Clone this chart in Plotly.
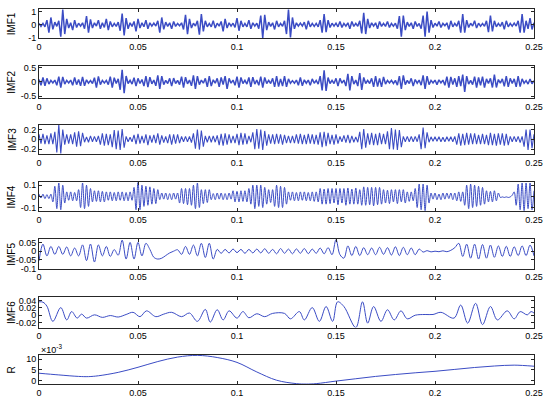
import numpy as np
import plotly.graph_objects as go

LINE_COLOR = "#3b4cc4"
AXIS_COLOR = "#262626"
FONT = "Arial, Liberation Sans, sans-serif"

# --- data ---
# IMF1..IMF4 sampled every 1 ms, IMF5 every 2 ms (values in signal units)
imf1 = [0.1, -0.12, 0.1, -0.15, 0.35, -0.6, 0.55, -0.35, 0.2, -0.12,
        0.3, -0.9, 1.15, -0.7, 0.45, -0.25, 0.15, -0.4, 0.35, -0.2,
        0.12, -0.1, 0.15, -0.3, 0.65, -0.6, 0.4, -0.25, 0.15, -0.1,
        0.35, -0.3, 0.15, -0.2, 0.45, -0.4, 0.25, -0.15, 0.1, -0.12,
        0.2, -0.45, 0.85, -0.8, 0.5, -0.3, 0.15, -0.12, 0.25, -0.5,
        0.45, -0.25, 0.15, -0.15, 0.35, -0.3, 0.15, -0.1, 0.12, -0.1,
        0.3, -0.6, 0.55, -0.35, 0.2, -0.12, 0.15, -0.3, 0.25, -0.12,
        0.1, -0.08, 0.15, -0.35, 0.75, -0.7, 0.45, -0.25, 0.12, -0.1,
        0.3, -0.75, 0.8, -0.5, 0.3, -0.15, 0.1, -0.15, 0.3, -0.25,
        0.12, -0.1, 0.25, -0.5, 0.45, -0.25, 0.15, -0.1, 0.12, -0.2,
        0.5, -0.45, 0.3, -0.15, 0.1, -0.15, 0.35, -0.3, 0.15, -0.1,
        0.12, -0.3, 0.7, -1.0, 0.75, -0.4, 0.2, -0.12, 0.15, -0.35,
        0.3, -0.15, 0.1, -0.12, 0.3, -0.7, 1.15, -0.95, 0.55, -0.3,
        0.15, -0.1, 0.12, -0.1, 0.2, -0.35, 0.3, -0.15, 0.1, -0.12,
        0.1, -0.15, 0.35, -0.6, 0.8, -0.55, 0.35, -0.2, 0.12, -0.1,
        0.12, -0.15, 0.25, -0.2, 0.1, -0.1, 0.15, -0.3, 0.25, -0.12,
        0.1, -0.12, 0.3, -0.65, 0.9, -0.7, 0.45, -0.25, 0.15, -0.1,
        0.15, -0.3, 0.25, -0.12, 0.1, -0.12, 0.25, -0.2, 0.1, -0.1,
        0.12, -0.3, 0.65, -0.9, 0.7, -0.4, 0.2, -0.12, 0.15, -0.3,
        0.25, -0.12, 0.1, -0.3, 0.7, -0.9, 1.0, -0.6, 0.35, -0.2,
        0.12, -0.1, 0.25, -0.2, 0.1, -0.08, 0.15, -0.35, 0.3, -0.15,
        0.1, -0.12, 0.3, -0.6, 0.8, -0.6, 0.35, -0.2, 0.12, -0.1,
        0.3, -0.25, 0.12, -0.1, 0.1, -0.12, 0.3, -0.55, 0.7, -0.5,
        0.3, -0.15, 0.1, -0.12, 0.2, -0.35, 0.3, -0.15, 0.1, -0.1,
        0.12, -0.1, 0.3, -0.6, 0.8, -0.6, 0.3, -0.3, 0.5, -0.35,
        0.15]

imf2 = [0.08, -0.12, 0.15, -0.14, 0.12, -0.08, 0.05, -0.04, 0.06, -0.12,
        0.18, -0.2, 0.17, -0.08, 0.05, -0.04, 0.06, -0.12, 0.15, -0.1,
        0.08, -0.14, 0.17, -0.14, 0.07, -0.05, 0.04, -0.06, 0.14, -0.2,
        0.19, -0.1, 0.05, -0.04, 0.05, -0.1, 0.18, -0.2, 0.14, -0.06,
        0.1, -0.28, 0.42, -0.4, 0.2, -0.06, 0.05, -0.08, 0.14, -0.15,
        0.12, -0.06, 0.08, -0.15, 0.2, -0.19, 0.16, -0.07, 0.06, -0.14,
        0.22, -0.25, 0.2, -0.1, 0.05, -0.06, 0.12, -0.15, 0.13, -0.06,
        0.05, -0.1, 0.18, -0.2, 0.16, -0.07, 0.06, -0.14, 0.22, -0.25,
        0.2, -0.1, 0.06, -0.05, 0.12, -0.18, 0.2, -0.15, 0.07, -0.05,
        0.12, -0.18, 0.15, -0.1, 0.2, -0.25, 0.12, -0.05, 0.06, -0.12,
        0.18, -0.2, 0.15, -0.06, 0.05, -0.08, 0.15, -0.18, 0.16, -0.08,
        0.06, -0.12, 0.18, -0.2, 0.15, -0.06, 0.05, -0.06, 0.12, -0.18,
        0.2, -0.17, 0.1, -0.15, 0.2, -0.18, 0.1, -0.05, 0.04, -0.05,
        0.06, -0.12, 0.15, -0.14, 0.07, -0.05, 0.06, -0.12, 0.1, -0.05,
        0.05, -0.08, 0.2, -0.3, 0.4, -0.32, 0.15, -0.06, 0.05, -0.06,
        0.12, -0.15, 0.12, -0.05, 0.06, -0.15, 0.28, -0.3, 0.2, -0.08,
        0.06, -0.15, 0.3, -0.28, 0.15, -0.06, 0.05, -0.06, 0.12, -0.18,
        0.2, -0.17, 0.12, -0.18, 0.17, -0.08, 0.05, -0.04, 0.05, -0.06,
        0.05, -0.12, 0.2, -0.25, 0.22, -0.1, 0.05, -0.06, 0.12, -0.15,
        0.08, -0.05, 0.06, -0.12, 0.22, -0.25, 0.2, -0.1, 0.05, -0.04,
        0.06, -0.1, 0.07, -0.04, 0.06, -0.12, 0.18, -0.2, 0.17, -0.1,
        0.12, -0.18, 0.2, -0.15, 0.25, -0.35, 0.2, -0.08, 0.05, -0.1,
        0.18, -0.2, 0.15, -0.12, 0.18, -0.2, 0.1, -0.06, 0.12, -0.2,
        0.25, -0.2, 0.08, -0.05, 0.1, -0.16, 0.2, -0.18, 0.12, -0.06,
        0.1, -0.18, 0.2, -0.17, 0.1, -0.05, 0.04, -0.08, 0.1, -0.07,
        0.04]

imf3 = [0.1, -0.09, 0.11, -0.1, 0.08, -0.1, 0.12, -0.1, 0.15, -0.27,
        0.3, -0.29, 0.2, -0.11, 0.1, -0.09, 0.1, -0.1, 0.14, -0.15,
        0.16, -0.14, 0.13, -0.06, 0.05, -0.06, 0.07, -0.05, 0.06, -0.05,
        0.07, -0.11, 0.12, -0.13, 0.11, -0.12, 0.1, -0.16, 0.19, -0.2,
        0.18, -0.22, 0.21, -0.17, 0.06, -0.05, 0.04, -0.05, 0.09, -0.1,
        0.11, -0.09, 0.07, -0.08, 0.1, -0.12, 0.08, -0.07, 0.09, -0.08,
        0.12, -0.11, 0.08, -0.07, 0.06, -0.08, 0.1, -0.11, 0.1, -0.09,
        0.1, -0.08, 0.06, -0.05, 0.06, -0.05, 0.06, -0.07, 0.12, -0.19,
        0.2, -0.21, 0.18, -0.15, 0.07, -0.06, 0.07, -0.06, 0.07, -0.06,
        0.08, -0.12, 0.11, -0.13, 0.12, -0.11, 0.1, -0.08, 0.07, -0.08,
        0.11, -0.12, 0.13, -0.11, 0.12, -0.1, 0.07, -0.06, 0.14, -0.2,
        0.21, -0.19, 0.2, -0.22, 0.17, -0.13, 0.1, -0.09, 0.1, -0.1,
        0.11, -0.09, 0.1, -0.11, 0.09, -0.08, 0.07, -0.08, 0.07, -0.08,
        0.1, -0.09, 0.11, -0.1, 0.09, -0.1, 0.11, -0.09, 0.1, -0.1,
        0.09, -0.11, 0.14, -0.16, 0.15, -0.14, 0.13, -0.1, 0.09, -0.11,
        0.1, -0.09, 0.06, -0.05, 0.08, -0.07, 0.09, -0.08, 0.07, -0.06,
        0.05, -0.06, 0.15, -0.2, 0.21, -0.17, 0.12, -0.11, 0.13, -0.12,
        0.11, -0.12, 0.13, -0.1, 0.11, -0.1, 0.16, -0.2, 0.23, -0.21,
        0.2, -0.22, 0.19, -0.16, 0.06, -0.05, 0.06, -0.05, 0.06, -0.05,
        0.06, -0.05, 0.1, -0.2, 0.24, -0.18, 0.14, -0.06, 0.05, -0.04,
        0.05, -0.04, 0.05, -0.05, 0.04, -0.05, 0.05, -0.04, 0.05, -0.05,
        0.06, -0.11, 0.12, -0.13, 0.11, -0.12, 0.13, -0.11, 0.12, -0.1,
        0.12, -0.1, 0.09, -0.1, 0.11, -0.1, 0.09, -0.12, 0.13, -0.12,
        0.11, -0.13, 0.12, -0.11, 0.12, -0.13, 0.11, -0.12, 0.06, -0.05,
        0.06, -0.05, 0.06, -0.07, 0.06, -0.15, 0.2, -0.22, 0.2, -0.18,
        0.1]

imf4 = [0.02, -0.015, 0.02, -0.02, 0.015, -0.02, 0.02, -0.05, 0.09, -0.11,
        0.12, -0.12, 0.1, -0.06, 0.04, -0.035, 0.04, -0.04, 0.035, -0.04,
        0.06, -0.1, 0.12, -0.11, 0.1, -0.09, 0.07, -0.05, 0.05, -0.045,
        0.05, -0.05, 0.045, -0.05, 0.04, -0.035, 0.04, -0.04, 0.035, -0.04,
        0.04, -0.035, 0.04, -0.04, 0.035, -0.04, 0.04, -0.035, 0.08, -0.12,
        0.13, -0.12, 0.1, -0.09, 0.09, -0.08, 0.085, -0.07, 0.07, -0.065,
        0.06, -0.03, 0.03, -0.025, 0.03, -0.03, 0.025, -0.03, 0.03, -0.025,
        0.03, -0.06, 0.07, -0.065, 0.07, -0.075, 0.07, -0.08, 0.1, -0.11,
        0.12, -0.1, 0.06, -0.065, 0.06, -0.055, 0.06, -0.03, 0.025, -0.03,
        0.03, -0.025, 0.03, -0.03, 0.025, -0.03, 0.03, -0.025, 0.05, -0.05,
        0.045, -0.05, 0.05, -0.045, 0.05, -0.05, 0.07, -0.07, 0.1, -0.11,
        0.1, -0.09, 0.1, -0.1, 0.08, -0.07, 0.06, -0.055, 0.06, -0.09,
        0.1, -0.1, 0.09, -0.1, 0.08, -0.07, 0.04, -0.035, 0.04, -0.04,
        0.035, -0.04, 0.04, -0.035, 0.04, -0.04, 0.035, -0.04, 0.04, -0.045,
        0.04, -0.05, 0.07, -0.07, 0.065, -0.07, 0.07, -0.065, 0.07, -0.06,
        0.07, -0.075, 0.07, -0.06, 0.07, -0.08, 0.075, -0.07, 0.065, -0.07,
        0.075, -0.07, 0.06, -0.08, 0.085, -0.08, 0.08, -0.075, 0.08, -0.085,
        0.08, -0.075, 0.08, -0.07, 0.06, -0.06, 0.055, -0.065, 0.06, -0.05,
        0.06, -0.065, 0.06, -0.05, 0.06, -0.06, 0.04, -0.045, 0.04, -0.04,
        0.07, -0.1, 0.11, -0.12, 0.11, -0.13, 0.1, -0.06, 0.03, -0.025,
        0.03, -0.03, 0.02, -0.03, 0.03, -0.025, 0.03, -0.02, 0.03, -0.03,
        0.03, -0.04, 0.04, -0.045, 0.04, -0.08, 0.1, -0.11, 0.11, -0.1,
        0.1, -0.09, 0.09, -0.08, 0.08, -0.07, 0.05, -0.05, 0.045, -0.05,
        0.05, -0.04, 0.03, -0.01, -0.005, -0.01, -0.005, -0.01, -0.005, 0.01,
        0.04, -0.08, 0.11, -0.12, 0.12, -0.13, 0.12, -0.11, 0.12, -0.12,
        0.05]

imf5 = [-0.055, 0.04, -0.027, 0.027, -0.018, 0.027, -0.018, 0.024, -0.027, 0.018,
        -0.027, 0.036, -0.054, 0.041, -0.062, 0.036, -0.027, 0.027, -0.03, 0.009,
        -0.023, 0.063, -0.045, 0.05, -0.045, 0.05, -0.027, 0.045, 0.01, -0.035,
        -0.045, -0.04, -0.025, -0.01, 0.0, 0.008, -0.018, 0.027, -0.018, 0.035,
        -0.027, 0.045, -0.036, 0.045, -0.045, 0.01, -0.012, 0.01, -0.01, 0.012,
        -0.008, 0.01, -0.012, 0.01, -0.01, 0.012, -0.01, 0.014, -0.012, 0.01,
        -0.015, 0.015, -0.012, 0.012, -0.015, 0.013, -0.012, 0.015, -0.014, 0.012,
        -0.012, 0.018, -0.015, 0.02, -0.02, 0.066, -0.02, -0.04, 0.03, -0.025,
        0.027, -0.025, 0.02, -0.02, 0.018, -0.02, 0.022, -0.018, 0.02, -0.022,
        0.025, -0.025, 0.022, -0.02, 0.018, -0.02, 0.012, -0.005, 0.003, -0.004,
        0.0, -0.003, 0.002, -0.003, 0.005, 0.02, 0.045, -0.03, 0.04, -0.04,
        0.04, -0.045, 0.038, -0.04, 0.035, -0.035, 0.03, -0.03, 0.028, -0.03,
        0.025, -0.025, 0.03, -0.025, 0.035, -0.027]

# IMF6 and residual: turning points read at these times (ms)
imf6_t_ms = [0, 2, 4, 7, 11, 14, 16.5, 19.3, 21.5, 24,
             28, 32, 36, 40, 44, 47.5, 51, 54.3, 59, 63,
             67, 72, 76, 80, 84, 86.5, 90, 93, 96, 100,
             103, 106, 110, 114, 118, 124, 127, 131.5, 134, 138,
             141.6, 145, 148.3, 150.8, 154, 160, 163.4, 166, 169, 172.7,
             176, 179.4, 182.8, 186, 190, 195, 199, 203, 209.6, 213,
             216.5, 220.5, 224, 228, 231.5, 236.5, 240, 243, 246.6, 248.5,
             250]
imf6 = [0.037, 0.036, 0.025, -0.017, 0.021, -0.013, 0.01, -0.008, 0.003, -0.008,
        0.001, -0.006, -0.001, -0.005, 0.002, 0.008, -0.004, 0.012, -0.004, 0.003,
        0.008, -0.004, 0.006, -0.017, 0.016, -0.019, 0.015, -0.013, 0.012, -0.008,
        0.01, -0.007, 0.004, -0.004, 0.005, 0.005, -0.01, 0.01, -0.013, 0.021,
        -0.017, 0.024, -0.017, 0.037, 0.024, -0.034, 0.037, -0.022, 0.024, -0.017,
        0.015, -0.013, 0.012, -0.01, 0.0, 0.002, 0.002, 0.008, -0.008, 0.028,
        -0.022, 0.033, -0.026, 0.024, -0.013, 0.012, -0.01, 0.01, 0.001, 0.01,
        0.006]

r_t_ms = [0, 10, 20, 25, 30, 40, 50, 60, 70, 80, 90, 100, 110, 120,
          130, 135, 140, 150, 160, 170, 180, 190, 200, 210, 220, 230, 240, 250]
r_e3 = [3.4, 2.6, 1.9, 1.8, 2.2, 3.8, 6.2, 8.9, 11.0, 11.8, 10.8, 8.5, 4.0, 0.1,
        -1.5, -1.7, -1.5, -0.3, 0.8, 1.9, 2.8, 3.6, 4.3, 5.2, 6.1, 6.8, 7.2, 6.7]

x_ticks = [0, 0.05, 0.1, 0.15, 0.2, 0.25]
x_ticktext = ["0", "0.05", "0.1", "0.15", "0.2", "0.25"]

t_1ms = np.arange(len(imf1)) * 0.001
t_2ms = np.arange(len(imf5)) * 0.002

# name, x, y, shape, width, y range, y ticks, y tick text, (top px, bottom px)
panels = [
    ("IMF1", t_1ms, imf1, "linear", 1.5, [-1.02, 1.2], [-1, 0, 1], ["-1", "0", "1"], (6, 36)),
    ("IMF2", t_1ms, imf2, "linear", 1.5, [-0.57, 0.56], [-0.5, 0, 0.5], ["-0.5", "0", "0.5"], (64, 97)),
    ("IMF3", t_1ms, imf3, "linear", 1.1, [-0.3, 0.3], [-0.2, 0, 0.2], ["-0.2", "0", "0.2"], (124, 154)),
    ("IMF4", t_1ms, imf4, "spline", 1, [-0.13, 0.125], [-0.1, 0, 0.1], ["-0.1", "0", "0.1"], (183, 212)),
    ("IMF5", t_2ms, imf5, "spline", 1, [-0.1, 0.068], [-0.1, -0.05, 0, 0.05],
     ["-0.1", "-0.05", "0", "0.05"], (241, 271)),
    ("IMF6", np.array(imf6_t_ms) / 1000, imf6, "spline", 1, [-0.034, 0.05], [-0.02, 0, 0.02, 0.04],
     ["-0.02", "0", "0.02", "0.04"], (300, 331)),
    ("R", np.array(r_t_ms) / 1000, r_e3, "spline", 1, [-1.85, 12], [0, 5, 10], ["0", "5", "10"], (359, 389)),
]

H = 408
fig = go.Figure()
layout = dict(
    width=550, height=H,
    margin=dict(l=39, r=16, t=0, b=0),
    paper_bgcolor="white", plot_bgcolor="white",
    showlegend=False,
    font=dict(family=FONT, size=10, color="black"),
)
annotations = []

axis_common = dict(
    showline=True, linecolor=AXIS_COLOR, linewidth=1, mirror="ticks",
    ticks="inside", ticklen=3, tickcolor=AXIS_COLOR, showgrid=False,
    zeroline=False, tickfont=dict(family=FONT, size=9, color="black"),
)

for i, (name, x, y, shape, lw, yr, yt, ytt, (top, bot)) in enumerate(panels, start=1):
    sfx = "" if i == 1 else str(i)
    fig.add_trace(go.Scatter(
        x=x, y=y, mode="lines",
        line=dict(color=LINE_COLOR, width=lw, shape=shape),
        xaxis=f"x{sfx}", yaxis=f"y{sfx}", hoverinfo="skip",
    ))
    y0, y1 = 1 - bot / H, 1 - top / H
    layout[f"xaxis{sfx}"] = dict(axis_common, domain=[0, 1], range=[0, 0.25],
                                 tickvals=x_ticks, ticktext=x_ticktext,
                                 anchor=f"y{sfx}")
    layout[f"yaxis{sfx}"] = dict(axis_common, domain=[y0, y1], range=yr,
                                 tickvals=yt, ticktext=ytt, anchor=f"x{sfx}")
    annotations.append(dict(
        text=name, xref="paper", yref="paper", x=-0.055, y=(y0 + y1) / 2,
        textangle=-90, showarrow=False, xanchor="center", yanchor="middle",
        font=dict(family=FONT, size=10, color="black"),
    ))

annotations.append(dict(
    text="×10<sup>-3</sup>", xref="paper", yref="paper", x=0, y=1 - 353 / H,
    showarrow=False, xanchor="left", yanchor="middle",
    font=dict(family=FONT, size=9, color="black"),
))
layout["annotations"] = annotations
fig.update_layout(**layout)

# drop the page's default body margin so the figure sits at the window origin
fig.write_html("out.html", config={"displayModeBar": False},
               post_script="document.body.style.margin='0';")
